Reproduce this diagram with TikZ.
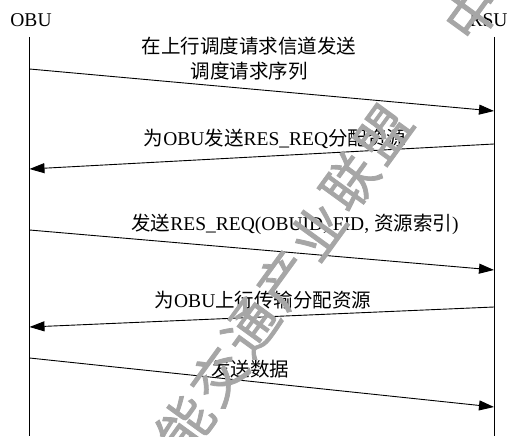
\documentclass[tikz,border=0pt]{standalone}
\usepackage{fontspec}
\setmainfont{Liberation Serif}
\newfontfamily\cjk{Noto Sans CJK SC}
\newfontfamily\cjkwm[FakeBold=1.5]{Noto Sans CJK SC}
\usetikzlibrary{arrows.meta}
\begin{document}
\begin{tikzpicture}[x=1pt,y=-1pt,
  lbl/.style={inner sep=0pt, font=\fontsize{19.5}{25}\selectfont},
  life/.style={line width=0.9pt},
  msg/.style={line width=0.9pt, -{Triangle[length=15pt,width=10pt]}},
  wm/.style={inner sep=0pt, text=black!35, font=\cjkwm\fontsize{54}{54}\selectfont, rotate=54}]
\useasboundingbox (0,0) rectangle (508,436);
\begin{scope}
\clip (0,0) rectangle (508,436);
% actors
\node[lbl] (obu) at (31,20) {OBU};
\node[lbl] (rsu) at (488.5,20) {RSU};
% lifelines
\coordinate (obuTop) at (29.5,37);
\coordinate (obuBot) at (29.5,436);
\coordinate (rsuTop) at (494,37);
\coordinate (rsuBot) at (494,436);
\draw[life] (obuTop) -- (obuBot);
\draw[life] (rsuTop) -- (rsuBot);
% message end points
\coordinate (a1) at (29.5,69);  \coordinate (b1) at (494,111);
\coordinate (b2) at (494,144);  \coordinate (a2) at (29.5,169);
\coordinate (a3) at (29.5,230); \coordinate (b3) at (494,270);
\coordinate (b4) at (494,307);  \coordinate (a4) at (29.5,327);
\coordinate (a5) at (29.5,358); \coordinate (b5) at (494,407);
\draw[msg] (a1) -- (b1);
\draw[msg] (b2) -- (a2);
\draw[msg] (a3) -- (b3);
\draw[msg] (b4) -- (a4);
\draw[msg] (a5) -- (b5);
% labels
\node[lbl] (t1a) at (249,46) {\cjk 在上行调度请求信道发送};
\node[lbl] (t1b) at (249,71) {\cjk 调度请求序列};
\node[lbl] (t2) at (275,139) {{\cjk 为}OBU{\cjk 发送}RES\_REQ{\cjk 分配资源}};
\node[lbl] (t3) at (295,224) {{\cjk 发送}RES\_REQ(OBUID, FID, {\cjk 资源索引})};
\node[lbl] (t4) at (263,300) {{\cjk 为}OBU{\cjk 上行传输分配资源}};
\node[lbl] (t5) at (250,369) {\cjk 发送数据};
% watermark
\node[wm] (w0) at (152,473) {智};
\node[wm] (w1) at (185,424.5) {能};
\node[wm] (w2) at (218,376) {交};
\node[wm] (w3) at (251,327.5) {通};
\node[wm] (w4) at (284,279) {产};
\node[wm] (w5) at (317,230.5) {业};
\node[wm] (w6) at (350,182) {联};
\node[wm] (w7) at (383,133.5) {盟};
\node[wm] (w8) at (472,12) {中};
\node[wm] (w9) at (505,-36) {国};
\end{scope}
\end{tikzpicture}
\end{document}
